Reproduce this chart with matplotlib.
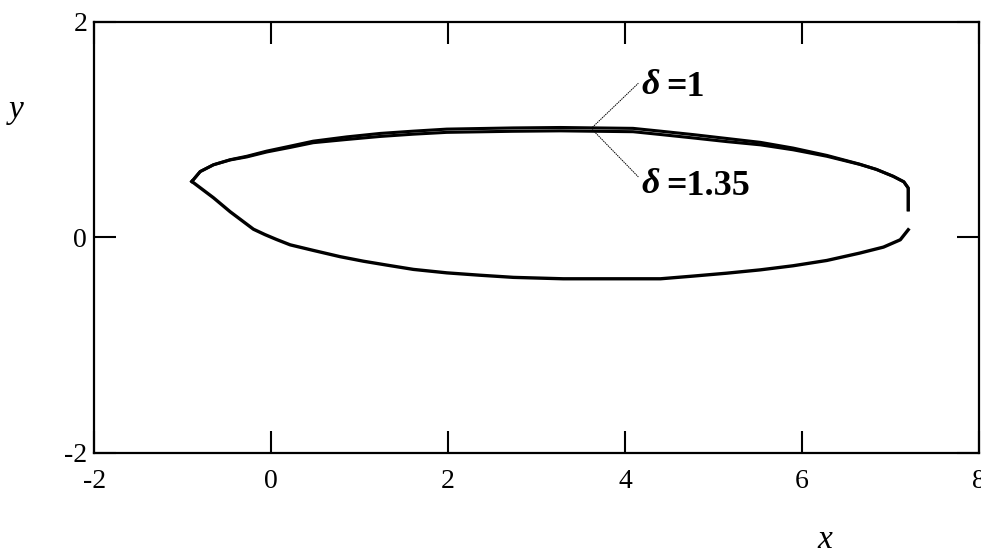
#!/usr/bin/env python3
"""Closed contour y(x) for two values of delta, with leader-line labels."""

import matplotlib
matplotlib.use("Agg")
import matplotlib.pyplot as plt

# upper branch, shared x positions; the two deltas split slightly near the crest
upper_x = [-0.896, -0.802, -0.652, -0.463, -0.275, -0.049, 0.215, 0.475, 0.855,
           1.232, 1.605, 1.985, 2.734, 3.27, 4.09, 4.40, 4.77, 5.15, 5.53,
           5.90, 6.28, 6.65, 6.84, 7.03, 7.15, 7.20, 7.20]
upper_y_d1 = [0.518, 0.610, 0.673, 0.720, 0.752, 0.800, 0.846, 0.892, 0.932,
              0.964, 0.985, 1.004, 1.015, 1.019, 1.011, 0.985, 0.953, 0.917, 0.881,
              0.828, 0.760, 0.679, 0.630, 0.566, 0.515, 0.457, 0.255]
upper_y_d135 = [0.518, 0.610, 0.673, 0.718, 0.746, 0.792, 0.834, 0.878, 0.908,
                0.936, 0.957, 0.974, 0.984, 0.988, 0.980, 0.954, 0.922, 0.888, 0.858,
                0.812, 0.752, 0.677, 0.630, 0.566, 0.515, 0.457, 0.255]

# lower branch (both deltas coincide here)
lower_x = [-0.896, -0.652, -0.463, -0.200, -0.070, 0.060, 0.215, 0.478, 0.780, 1.043,
           1.307, 1.608, 1.985, 2.36, 2.74, 3.30, 4.40, 4.77, 5.15, 5.53,
           5.90, 6.28, 6.65, 6.92, 7.11, 7.20]
lower_y = [0.518, 0.367, 0.237, 0.075, 0.025, -0.020, -0.070, -0.122, -0.180, -0.222,
           -0.258, -0.298, -0.330, -0.352, -0.372, -0.385, -0.385, -0.360, -0.333, -0.302,
           -0.264, -0.215, -0.147, -0.091, -0.023, 0.070]

x_ticks = [-2, 0, 2, 4, 6, 8]
y_ticks = [-2, 0, 2]
delta_labels = ["1", "1.35"]

SERIF = "Liberation Serif"

fig = plt.figure(figsize=(9.81, 5.59), dpi=100)
ax = fig.add_axes([0.096, 0.190, 0.902, 0.771])

ax.plot(upper_x, upper_y_d1, color="black", lw=2.2)
ax.plot(upper_x, upper_y_d135, color="black", lw=2.2)
ax.plot(lower_x, lower_y, color="black", lw=2.4)

ax.set_xlim(-2, 8)
ax.set_ylim(-2, 2)
ax.set_xticks(x_ticks)
ax.set_yticks(y_ticks)
ax.set_xticklabels([str(t) for t in x_ticks])
ax.set_yticklabels([str(t) for t in y_ticks])

for s in ax.spines.values():
    s.set_linewidth(1.6)
ax.tick_params(axis="both", direction="in", length=16, width=1.5,
               top=True, right=True, labelsize=20)
ax.tick_params(axis="x", pad=12)
ax.tick_params(axis="y", pad=5)
for lab in ax.get_xticklabels() + ax.get_yticklabels():
    lab.set_fontfamily(SERIF)

# leader lines from the crest to the two labels
apex_x, apex_y = 3.63, 1.02
ax.plot([apex_x, 4.15], [apex_y, 1.43], color="black", lw=0.7, ls=(0, (1.5, 0.8)))
ax.plot([apex_x, 4.15], [apex_y - 0.02, 0.56], color="black", lw=0.7, ls=(0, (1.5, 0.8)))

for ypos, val in zip([1.41, 0.49], delta_labels):
    ax.text(4.18, ypos, "δ", fontfamily=SERIF, fontsize=26, fontweight="bold",
            fontstyle="italic", ha="left", va="center")
    ax.text(4.47, ypos - 0.02, "=" + val, fontfamily=SERIF, fontsize=26,
            fontweight="bold", ha="left", va="center")

fig.text(825 / 981, 1 - 540 / 559, "x", fontfamily=SERIF, fontsize=24,
         fontstyle="italic", ha="center", va="center")
fig.text(16 / 981, 1 - 110 / 559, "y", fontfamily=SERIF, fontsize=24,
         fontstyle="italic", ha="center", va="center")

fig.savefig("out.png", dpi=100, facecolor="white")
